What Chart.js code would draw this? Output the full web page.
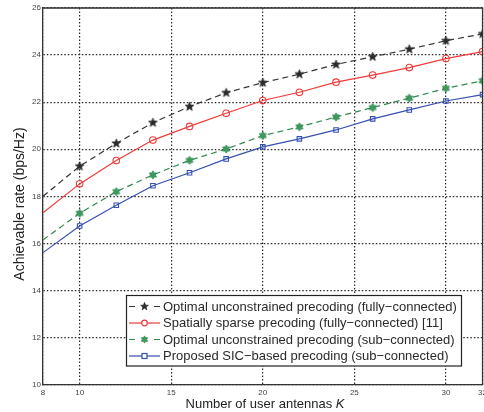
<!DOCTYPE html>
<html>
<head>
<meta charset="utf-8">
<script src="https://cdn.jsdelivr.net/npm/chart.js@4"></script>
<style>
  html, body { margin: 0; padding: 0; background: #fff; overflow: hidden; }
  #wrap { width: 490px; height: 412px; }
</style>
</head>
<body>
<div id="wrap"><canvas id="myChart"></canvas></div>
<script>
// number of user antennas K
const antennas = [8, 10, 12, 14, 16, 18, 20, 22, 24, 26, 28, 30, 32];
const xTicks = [8, 10, 15, 20, 25, 30, 32];

// achievable rate (bps/Hz)
const optimalFully = [18.0, 19.28, 20.25, 21.13, 21.81, 22.40, 22.83, 23.19, 23.60, 23.93, 24.25, 24.61, 24.90];
const sparseFully  = [17.3, 18.53, 19.52, 20.39, 20.97, 21.53, 22.07, 22.42, 22.85, 23.15, 23.47, 23.85, 24.15];
const optimalSub   = [16.15, 17.28, 18.20, 18.91, 19.53, 20.01, 20.58, 20.95, 21.37, 21.77, 22.17, 22.59, 22.91];
const sicSub       = [15.61, 16.74, 17.62, 18.45, 19.00, 19.59, 20.10, 20.44, 20.82, 21.29, 21.67, 22.05, 22.32];

const names = [
  'Optimal unconstrained precoding (fully\u2212connected)',
  'Spatially sparse precoding (fully\u2212connected) [11]',
  'Optimal unconstrained precoding (sub\u2212connected)',
  'Proposed SIC\u2212based precoding (sub\u2212connected)'
];

const FONT = '"Liberation Sans", Arial, Helvetica, sans-serif';

// star shaped markers drawn once on small canvases
function starMark(spikes, outer, inner, fill, stroke) {
  const size = Math.ceil(outer * 2 + 3);
  const c = document.createElement('canvas');
  c.width = c.height = size;
  const g = c.getContext('2d');
  g.translate(size / 2, size / 2);
  g.beginPath();
  for (let i = 0; i < spikes * 2; i++) {
    const r = i % 2 ? inner : outer;
    const a = -Math.PI / 2 + i * Math.PI / spikes;
    g.lineTo(r * Math.cos(a), r * Math.sin(a));
  }
  g.closePath();
  g.fillStyle = fill;
  g.fill();
  g.strokeStyle = stroke;
  g.lineWidth = 0.8;
  g.stroke();
  return c;
}

const blackStar = starMark(5, 4.6, 1.9, '#2a2a2a', '#2a2a2a');
const greenHex = starMark(6, 4.1, 2.4, '#3d9a5c', '#2e8650');
const blackStarSmall = starMark(5, 4, 1.6, '#2a2a2a', '#2a2a2a');
const greenHexSmall = starMark(6, 3.6, 2.1, '#3d9a5c', '#2e8650');

const series = [
  { values: optimalFully, color: '#333333', dash: [6, 4], style: blackStar, legendMark: blackStarSmall, radius: 4.5 },
  { values: sparseFully, color: '#f03a3a', dash: [], style: 'circle', radius: 3.3 },
  { values: optimalSub, color: '#2f8a50', dash: [6, 4], style: greenHex, legendMark: greenHexSmall, radius: 4.5 },
  { values: sicSub, color: '#3550b0', dash: [], style: 'rect', radius: 3.2 }
];

const datasets = series.map((s, n) => ({
  label: names[n],
  data: antennas.map((k, i) => ({ x: k, y: s.values[i] })),
  borderColor: s.color,
  borderWidth: 1.2,
  borderDash: s.dash,
  pointStyle: s.style,
  pointRadius: antennas.map((k, i) => (i === 0 ? 0 : s.radius)),
  pointBorderColor: s.color,
  pointBorderWidth: 1.1,
  pointBackgroundColor: 'rgba(255,255,255,0)',
  tension: 0,
  fill: false
}));

// box around plot, axis titles (italic K), legend inside plot
const extras = {
  id: 'extras',
  afterDraw(chart) {
    const { ctx, chartArea: a } = chart;
    ctx.save();
    ctx.strokeStyle = '#333';
    ctx.lineWidth = 1.3;
    ctx.beginPath();
    ctx.moveTo(a.left, a.top);
    ctx.lineTo(a.right, a.top);
    ctx.lineTo(a.right, a.bottom);
    ctx.stroke();

    // x axis title
    ctx.fillStyle = '#222';
    ctx.textBaseline = 'middle';
    ctx.font = '13px ' + FONT;
    const part1 = 'Number of user antennas ';
    const w1 = ctx.measureText(part1).width;
    ctx.font = 'italic 13px ' + FONT;
    const w2 = ctx.measureText('K').width;
    const x0 = 265 - (w1 + w2) / 2;
    ctx.font = '13px ' + FONT;
    ctx.textAlign = 'left';
    ctx.fillText(part1, x0, 404);
    ctx.font = 'italic 13px ' + FONT;
    ctx.fillText('K', x0 + w1, 404);

    // y axis title
    ctx.save();
    ctx.translate(20, 204);
    ctx.rotate(-Math.PI / 2);
    ctx.font = '14px ' + FONT;
    ctx.textAlign = 'center';
    ctx.fillText('Achievable rate (bps/Hz)', 0, 0);
    ctx.restore();

    // legend
    const bx = 126.5, by = 295.5, bw = 335, bh = 70.5;
    ctx.fillStyle = '#fff';
    ctx.fillRect(bx, by, bw, bh);
    ctx.strokeStyle = '#222';
    ctx.lineWidth = 1.2;
    ctx.strokeRect(bx, by, bw, bh);
    const rowY = [306.5, 323, 339.5, 356];
    series.forEach((s, n) => {
      const y = rowY[n];
      ctx.strokeStyle = s.color;
      ctx.lineWidth = 1.2;
      ctx.beginPath();
      if (s.dash.length) {
        ctx.moveTo(129, y); ctx.lineTo(135, y);
        ctx.moveTo(154, y); ctx.lineTo(160, y);
      } else {
        ctx.moveTo(129, y); ctx.lineTo(160, y);
      }
      ctx.stroke();
      const mx = 144.5;
      if (s.legendMark) {
        ctx.drawImage(s.legendMark, mx - s.legendMark.width / 2, y - s.legendMark.height / 2);
      } else if (s.style === 'circle') {
        ctx.beginPath();
        ctx.arc(mx, y, 2.8, 0, Math.PI * 2);
        ctx.fillStyle = '#fff';
        ctx.fill();
        ctx.stroke();
      } else {
        ctx.fillStyle = '#fff';
        ctx.fillRect(mx - 2.5, y - 2.5, 5, 5);
        ctx.strokeRect(mx - 2.5, y - 2.5, 5, 5);
      }
      ctx.fillStyle = '#2a2a2a';
      ctx.font = '13px ' + FONT;
      ctx.textAlign = 'left';
      ctx.textBaseline = 'middle';
      ctx.fillText(names[n], 163, y + 0.5);
    });
    ctx.restore();
  }
};

const ctx = document.getElementById('myChart').getContext('2d');
new Chart(ctx, {
  type: 'line',
  data: { datasets },
  options: {
    responsive: true,
    maintainAspectRatio: false,
    animation: false,
    layout: { padding: { top: 8, right: 0, left: 0, bottom: 0 } },
    plugins: {
      legend: { display: false },
      tooltip: { enabled: false }
    },
    scales: {
      x: {
        type: 'linear',
        min: 8,
        max: 32,
        afterBuildTicks: (scale) => { scale.ticks = xTicks.map(v => ({ value: v })); },
        afterFit: (scale) => { scale.height = 27.3; },
        ticks: {
          color: '#444',
          font: { family: FONT, size: 8 },
          padding: 3,
          maxRotation: 0,
          autoSkip: false
        },
        grid: { color: '#2a2a2a', lineWidth: 1.2, drawTicks: false },
        border: { color: '#333', width: 1.3, dash: [1.5, 2] }
      },
      y: {
        min: 10,
        max: 26,
        afterFit: (scale) => { scale.width = 43; },
        ticks: {
          stepSize: 2,
          color: '#444',
          font: { family: FONT, size: 8 },
          padding: 2
        },
        grid: { color: '#2a2a2a', lineWidth: 1.2, drawTicks: false },
        border: { color: '#333', width: 1.3, dash: [1.5, 2] }
      }
    }
  },
  plugins: [extras]
});
</script>
</body>
</html>
